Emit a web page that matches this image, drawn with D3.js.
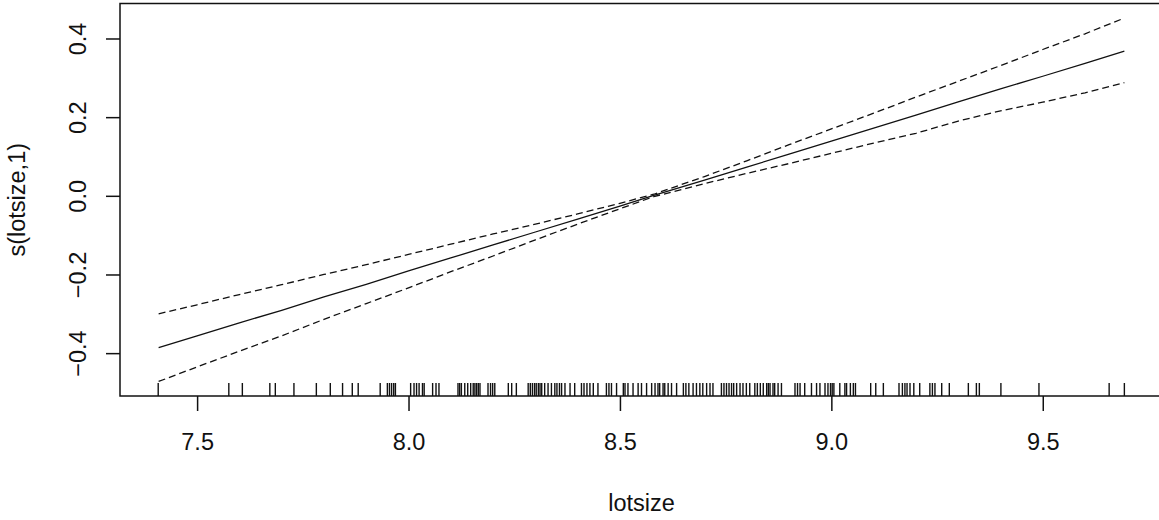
<!DOCTYPE html>
<meta charset="utf-8">
<script type="text/javascript" src="https://cdn.jsdelivr.net/npm/d3@7"></script>
<style>
    body { margin: 0; background: white; }
    .line { fill: none; stroke: #111; stroke-width: 1.3; }
    .dashed { stroke-dasharray: 7,4; }
    .rug { stroke: #111; stroke-width: 1.4; }
</style>
<body>
<script>

    // smooth term s(lotsize,1)
    var lotsize = [7.409, 7.5, 7.6, 7.7, 7.8, 7.9, 8.0, 8.1, 8.2, 8.3, 8.4, 8.5, 8.58, 8.7, 8.8, 8.9, 9.0, 9.1, 9.2, 9.3, 9.4, 9.5, 9.6, 9.693]
    var fit = [-0.386, -0.356, -0.323, -0.291, -0.257, -0.225, -0.191, -0.158, -0.125, -0.092, -0.059, -0.026, 0.001, 0.040, 0.073, 0.106, 0.139, 0.172, 0.205, 0.239, 0.272, 0.304, 0.337, 0.368]
    var upper = [-0.300, -0.277, -0.251, -0.226, -0.200, -0.175, -0.149, -0.123, -0.097, -0.072, -0.046, -0.019, 0.004, 0.049, 0.089, 0.130, 0.170, 0.210, 0.251, 0.291, 0.331, 0.372, 0.412, 0.452]
    var lower = [-0.472, -0.435, -0.395, -0.356, -0.314, -0.274, -0.234, -0.193, -0.153, -0.112, -0.072, -0.033, -0.002, 0.031, 0.057, 0.082, 0.108, 0.134, 0.159, 0.190, 0.216, 0.238, 0.262, 0.288]

    // rug of observed log lot sizes
    var rugValues = [7.408, 7.575, 7.607, 7.672, 7.685, 7.729, 7.782, 7.815, 7.844, 7.867, 7.881, 7.933,
        7.950, 7.955, 7.960, 7.965, 7.969, 8.005, 8.013, 8.019, 8.025, 8.033, 8.037, 8.057, 8.065, 8.072,
        8.117, 8.121, 8.125, 8.133, 8.140, 8.147, 8.153, 8.157, 8.161, 8.165, 8.169, 8.188, 8.194, 8.199, 8.204,
        8.236, 8.244, 8.255, 8.283, 8.288, 8.293, 8.298, 8.302, 8.307, 8.311, 8.315, 8.322, 8.330, 8.338,
        8.346, 8.351, 8.357, 8.362, 8.370, 8.382, 8.393, 8.409, 8.415, 8.422, 8.429, 8.437, 8.448, 8.468,
        8.474, 8.480, 8.492, 8.508, 8.512, 8.519, 8.531, 8.543, 8.551, 8.563, 8.575, 8.583, 8.590, 8.594,
        8.602, 8.606, 8.614, 8.622, 8.634, 8.650, 8.656, 8.663, 8.673, 8.681, 8.689, 8.696, 8.705, 8.713,
        8.720, 8.740, 8.746, 8.752, 8.758, 8.764, 8.769, 8.776, 8.784, 8.791, 8.799, 8.807, 8.819, 8.825,
        8.832, 8.839, 8.847, 8.851, 8.855, 8.862, 8.866, 8.874, 8.882, 8.914, 8.920, 8.926, 8.937, 8.953,
        8.965, 8.973, 8.985, 8.992, 8.998, 9.002, 9.006, 9.020, 9.032, 9.036, 9.045, 9.052, 9.057, 9.093,
        9.105, 9.123, 9.160, 9.168, 9.174, 9.179, 9.186, 9.195, 9.209, 9.233, 9.239, 9.245, 9.261, 9.279,
        9.324, 9.343, 9.350, 9.401, 9.491, 9.657, 9.693]

    var xTicks = [7.5, 8.0, 8.5, 9.0, 9.5]
    var yTicks = [-0.4, -0.2, 0.0, 0.2, 0.4]

    var w = 1159
    var h = 520
    // plot box (the right edge runs past the window, as in the original)
    var box = {left: 120, right: 1163, top: 3.5, bottom: 396}
    var font = "'Liberation Sans', Arial, sans-serif"
    var fontSize = 23.5

    var rows = lotsize.map((x, i) => { return {x: x, fit: fit[i], upper: upper[i], lower: lower[i]} })

    // R pads the data range by 4% on each side
    var x_pad = (d3.max(lotsize) - d3.min(lotsize)) * 0.04
    var x_scale = d3.scaleLinear().domain([d3.min(lotsize) - x_pad, d3.max(lotsize) + x_pad]).range([box.left, box.right])
    var y_min = d3.min(lower), y_max = d3.max(upper)
    var y_pad = (y_max - y_min) * 0.04
    var y_scale = d3.scaleLinear().domain([y_min - y_pad, y_max + y_pad]).range([box.bottom, box.top])

    var svg = d3.select("body").append("svg").attr("width", w).attr("height", h)

    // lines
    var fitLine = d3.line().x((d) => { return x_scale(d.x) }).y((d) => { return y_scale(d.fit) })
    var upLine = d3.line().x((d) => { return x_scale(d.x) }).y((d) => { return y_scale(d.upper) })
    var lowLine = d3.line().x((d) => { return x_scale(d.x) }).y((d) => { return y_scale(d.lower) })

    svg.append("path").datum(rows).attr("class", "line").attr("d", fitLine)
    svg.append("path").datum(rows).attr("class", "line dashed").attr("d", upLine)
    svg.append("path").datum(rows).attr("class", "line dashed").attr("d", lowLine)

    // rug
    svg.selectAll(".rug").data(rugValues).enter().append("line").attr("class", "rug")
        .attr("x1", (d) => { return x_scale(d) }).attr("x2", (d) => { return x_scale(d) })
        .attr("y1", box.bottom).attr("y2", box.bottom - 13)

    // box
    svg.append("rect").attr("x", box.left).attr("y", box.top).attr("width", box.right - box.left).attr("height", box.bottom - box.top)
        .style("fill", "none").style("stroke", "#111").style("stroke-width", 1.5)

    // X AXIS
    var x_axis = d3.axisBottom(x_scale).tickValues(xTicks).tickFormat(d3.format(".1f")).tickSize(15)
    var gx = svg.append("g").attr("transform", "translate(0," + box.bottom + ")").call(x_axis)
    gx.select(".domain").remove()
    gx.selectAll("line").style("stroke", "#111").style("stroke-width", 1.5)
    gx.selectAll("text").attr("y", 54).attr("dy", 0).attr("font-size", fontSize).attr("font-family", font).style("fill", "#111")

    // Y AXIS
    var y_axis = d3.axisLeft(y_scale).tickValues(yTicks).tickFormat(d3.format(".1f")).tickSize(14)
    var gy = svg.append("g").attr("transform", "translate(" + box.left + ",0)").call(y_axis)
    gy.select(".domain").remove()
    gy.selectAll("line").style("stroke", "#111").style("stroke-width", 1.5)
    gy.selectAll("text").attr("x", 0).attr("y", -34).attr("dy", 0).attr("transform", "rotate(-90)")
        .attr("text-anchor", "middle").attr("font-size", fontSize).attr("font-family", font).style("fill", "#111")

    // titles
    svg.append("text").attr("x", (box.left + box.right) / 2).attr("y", 511).text("lotsize")
        .style("text-anchor", "middle").style("font-size", fontSize + "px").style("font-family", font).style("fill", "#111")
    svg.append("text").attr("transform", "translate(25," + (box.top + box.bottom) / 2 + ") rotate(-90)").text("s(lotsize,1)")
        .style("text-anchor", "middle").style("font-size", fontSize + "px").style("font-family", font).style("fill", "#111")

</script>
</body>
</html>
